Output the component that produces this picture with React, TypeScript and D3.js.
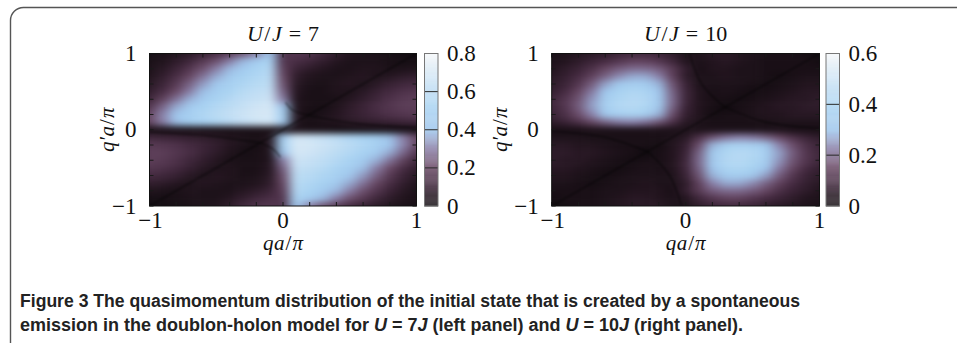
import React from "react";
import * as d3 from "d3";

// ---------- data ----------
const qGrid = [-1, -0.9, -0.8, -0.7, -0.6, -0.5, -0.4, -0.3, -0.2, -0.1, 0, 0.1, 0.2, 0.3, 0.4, 0.5, 0.6, 0.7, 0.8, 0.9, 1];
const qpGrid = [1, 0.9, 0.8, 0.7, 0.6, 0.5, 0.4, 0.3, 0.2, 0.1, 0, -0.1, -0.2, -0.3, -0.4, -0.5, -0.6, -0.7, -0.8, -0.9, -1];

// U/J = 7, rows from q'a/pi = 1 (top) to -1 (bottom), columns qa/pi = -1 .. 1
const u7Rows = [
  [0.02,0.03,0.05,0.07,0.10,0.13,0.17,0.22,0.30,0.40,0.15,0.16,0.15,0.12,0.08,0.05,0.04,0.03,0.02,0.01,0.00],
  [0.03,0.05,0.08,0.12,0.17,0.22,0.30,0.38,0.45,0.52,0.16,0.14,0.12,0.09,0.06,0.04,0.04,0.04,0.03,0.02,0.02],
  [0.04,0.07,0.11,0.16,0.22,0.30,0.38,0.45,0.52,0.56,0.18,0.11,0.08,0.06,0.04,0.04,0.05,0.05,0.03,0.04,0.05],
  [0.05,0.09,0.14,0.20,0.28,0.36,0.44,0.50,0.55,0.58,0.20,0.08,0.05,0.04,0.04,0.05,0.06,0.04,0.06,0.08,0.09],
  [0.07,0.11,0.17,0.25,0.34,0.42,0.49,0.54,0.58,0.60,0.22,0.07,0.04,0.03,0.05,0.06,0.04,0.07,0.10,0.12,0.13],
  [0.09,0.14,0.21,0.30,0.39,0.47,0.53,0.58,0.61,0.63,0.25,0.06,0.03,0.03,0.05,0.04,0.07,0.10,0.13,0.15,0.16],
  [0.12,0.19,0.28,0.37,0.45,0.52,0.57,0.61,0.64,0.66,0.30,0.05,0.03,0.03,0.03,0.06,0.09,0.12,0.15,0.17,0.18],
  [0.16,0.26,0.36,0.45,0.51,0.56,0.60,0.64,0.67,0.69,0.40,0.05,0.03,0.02,0.05,0.08,0.11,0.14,0.16,0.18,0.18],
  [0.20,0.31,0.41,0.49,0.55,0.59,0.63,0.66,0.69,0.70,0.50,0.06,0.01,0.04,0.06,0.09,0.11,0.13,0.15,0.16,0.17],
  [0.20,0.30,0.39,0.46,0.51,0.55,0.59,0.63,0.66,0.68,0.45,0.05,0.03,0.04,0.05,0.07,0.08,0.09,0.10,0.11,0.12],
  [0.03,0.03,0.03,0.03,0.03,0.03,0.03,0.03,0.03,0.03,0.03,0.04,0.03,0.03,0.02,0.02,0.02,0.02,0.02,0.02,0.02],
  [0.12,0.11,0.10,0.09,0.08,0.07,0.05,0.04,0.03,0.05,0.45,0.68,0.66,0.63,0.59,0.55,0.51,0.46,0.39,0.30,0.20],
  [0.17,0.16,0.15,0.13,0.11,0.09,0.06,0.04,0.01,0.06,0.50,0.70,0.69,0.66,0.63,0.59,0.55,0.49,0.41,0.31,0.20],
  [0.18,0.18,0.16,0.14,0.11,0.08,0.05,0.02,0.03,0.05,0.40,0.69,0.67,0.64,0.60,0.56,0.51,0.45,0.36,0.26,0.16],
  [0.18,0.17,0.15,0.12,0.09,0.06,0.03,0.03,0.03,0.05,0.30,0.66,0.64,0.61,0.57,0.52,0.45,0.37,0.28,0.19,0.12],
  [0.16,0.15,0.13,0.10,0.07,0.04,0.05,0.03,0.03,0.06,0.25,0.63,0.61,0.58,0.53,0.47,0.39,0.30,0.21,0.14,0.09],
  [0.13,0.12,0.10,0.07,0.04,0.06,0.05,0.03,0.04,0.07,0.22,0.60,0.58,0.54,0.49,0.42,0.34,0.25,0.17,0.11,0.07],
  [0.09,0.08,0.06,0.04,0.06,0.05,0.04,0.04,0.05,0.08,0.20,0.58,0.55,0.50,0.44,0.36,0.28,0.20,0.14,0.09,0.05],
  [0.05,0.04,0.03,0.05,0.04,0.04,0.04,0.06,0.08,0.11,0.18,0.56,0.52,0.45,0.38,0.30,0.22,0.16,0.11,0.07,0.04],
  [0.02,0.02,0.03,0.04,0.04,0.04,0.06,0.09,0.12,0.14,0.16,0.52,0.45,0.38,0.30,0.22,0.17,0.12,0.08,0.05,0.03],
  [0.00,0.01,0.02,0.03,0.04,0.05,0.08,0.12,0.15,0.16,0.15,0.40,0.30,0.22,0.17,0.13,0.10,0.07,0.05,0.03,0.02],
];

// U/J = 10
const u10Rows = [
  [0.02,0.03,0.04,0.05,0.06,0.08,0.09,0.09,0.08,0.06,0.03,0.03,0.05,0.05,0.04,0.03,0.02,0.02,0.02,0.01,0.00],
  [0.03,0.04,0.06,0.08,0.10,0.12,0.14,0.14,0.12,0.09,0.04,0.03,0.04,0.05,0.04,0.03,0.02,0.02,0.02,0.02,0.01],
  [0.04,0.06,0.08,0.11,0.15,0.18,0.20,0.20,0.18,0.13,0.07,0.02,0.04,0.04,0.03,0.03,0.02,0.02,0.02,0.02,0.02],
  [0.05,0.07,0.10,0.14,0.19,0.24,0.27,0.27,0.23,0.14,0.06,0.03,0.03,0.04,0.03,0.03,0.02,0.01,0.02,0.03,0.03],
  [0.06,0.08,0.12,0.18,0.26,0.32,0.35,0.34,0.28,0.17,0.08,0.03,0.03,0.03,0.03,0.02,0.01,0.02,0.03,0.04,0.04],
  [0.07,0.10,0.15,0.22,0.31,0.38,0.41,0.40,0.31,0.19,0.09,0.04,0.02,0.03,0.02,0.01,0.02,0.03,0.04,0.05,0.05],
  [0.09,0.12,0.17,0.25,0.35,0.41,0.43,0.42,0.33,0.20,0.09,0.04,0.02,0.02,0.01,0.02,0.03,0.04,0.05,0.05,0.06],
  [0.09,0.12,0.18,0.26,0.36,0.42,0.43,0.41,0.32,0.19,0.08,0.04,0.02,0.00,0.02,0.03,0.04,0.05,0.05,0.06,0.06],
  [0.08,0.11,0.16,0.23,0.32,0.37,0.39,0.36,0.28,0.16,0.07,0.04,0.01,0.02,0.02,0.03,0.04,0.04,0.05,0.05,0.05],
  [0.06,0.08,0.11,0.15,0.19,0.22,0.23,0.21,0.17,0.11,0.05,0.03,0.02,0.02,0.02,0.02,0.02,0.03,0.03,0.03,0.03],
  [0.02,0.02,0.02,0.03,0.03,0.03,0.03,0.03,0.03,0.03,0.03,0.03,0.03,0.03,0.03,0.03,0.03,0.03,0.02,0.02,0.02],
  [0.03,0.03,0.03,0.02,0.02,0.02,0.02,0.02,0.02,0.03,0.05,0.11,0.17,0.21,0.23,0.22,0.19,0.15,0.11,0.08,0.06],
  [0.05,0.05,0.04,0.04,0.03,0.02,0.02,0.02,0.01,0.04,0.07,0.16,0.28,0.36,0.39,0.37,0.32,0.23,0.16,0.11,0.08],
  [0.06,0.06,0.05,0.05,0.04,0.03,0.02,0.00,0.02,0.04,0.08,0.19,0.32,0.41,0.43,0.42,0.36,0.26,0.18,0.12,0.09],
  [0.06,0.05,0.05,0.04,0.03,0.02,0.01,0.02,0.02,0.04,0.09,0.20,0.33,0.42,0.43,0.41,0.35,0.25,0.17,0.12,0.09],
  [0.05,0.05,0.04,0.03,0.02,0.01,0.02,0.03,0.02,0.04,0.09,0.19,0.31,0.40,0.41,0.38,0.31,0.22,0.15,0.10,0.07],
  [0.04,0.04,0.03,0.02,0.01,0.02,0.03,0.03,0.03,0.03,0.08,0.17,0.28,0.34,0.35,0.32,0.26,0.18,0.12,0.08,0.06],
  [0.03,0.03,0.02,0.01,0.02,0.03,0.03,0.04,0.03,0.03,0.06,0.14,0.23,0.27,0.27,0.24,0.19,0.14,0.10,0.07,0.05],
  [0.02,0.02,0.02,0.02,0.03,0.03,0.04,0.04,0.04,0.02,0.07,0.13,0.18,0.20,0.20,0.18,0.15,0.11,0.08,0.06,0.04],
  [0.01,0.02,0.02,0.02,0.03,0.04,0.05,0.05,0.04,0.03,0.04,0.09,0.12,0.14,0.14,0.12,0.10,0.08,0.06,0.04,0.03],
  [0.00,0.01,0.02,0.02,0.03,0.04,0.05,0.05,0.05,0.03,0.03,0.06,0.08,0.09,0.09,0.08,0.06,0.05,0.04,0.03,0.02],
];

// nodal (zero) lines seen in the maps, as (qa/pi, q'a/pi) points
const u7Nodal = [
  [[-1, -1], [1, 1]],
  [[-1, -0.03], [-0.55, -0.08], [-0.17, -0.17]],
  [[-0.17, -0.17], [-0.07, -0.26], [-0.02, -0.36]],
  [[1, 0.03], [0.55, 0.08], [0.19, 0.19]],
  [[0.19, 0.19], [0.07, 0.26], [0.02, 0.36]],
];
const u10Nodal = [
  [[-1, -1], [1, 1]],
  [[0.29, 0.3], [0.12, 0.6], [0.03, 1]],
  [[0.29, 0.3], [0.6, 0.1], [1, 0.02]],
  [[-0.28, -0.29], [-0.12, -0.6], [-0.03, -1]],
  [[-0.28, -0.29], [-0.6, -0.1], [-1, -0.02]],
];

const axisTicks = [-1, 0, 1];
const axisTickLabels = ["\u22121", "0", "1"];
const minorTicks = [-1, -0.8, -0.6, -0.4, -0.2, 0, 0.2, 0.4, 0.6, 0.8, 1];
const cbTicksU7 = [0, 0.2, 0.4, 0.6, 0.8];
const cbLabelsU7 = ["0", "0.2", "0.4", "0.6", "0.8"];
const cbTicksU10 = [0, 0.2, 0.4, 0.6];
const cbLabelsU10 = ["0", "0.2", "0.4", "0.6"];

const cmapStops = [0, 0.07, 0.16, 0.26, 0.38, 0.5, 0.65, 0.8, 1];
const cmapColors = ["#0f0a0e", "#23151f", "#43293f", "#6a4a66", "#8a80a8", "#9fc6ec", "#a9d3f2", "#c6e0f4", "#f4f6f8"];

const cmap = d3.scaleLinear<string>().domain(cmapStops).range(cmapColors).interpolate(d3.interpolateRgb).clamp(true);

const MATH = "'Liberation Serif', 'DejaVu Serif', serif";

type PanelProps = {
  id: string;
  rows: number[][];
  nodal: number[][][];
  vmax: number;
  x0: number; x1: number; y0: number; y1: number;
  cbx0: number; cbx1: number;
  cbTicks: number[]; cbLabels: string[];
  title: string;
  ylabelX: number;
};

function Panel(p: PanelProps) {
  const xs = d3.scaleLinear().domain([-1, 1]).range([p.x0, p.x1]);
  const ys = d3.scaleLinear().domain([-1, 1]).range([p.y1, p.y0]);
  const cb = d3.scaleLinear().domain([0, p.vmax]).range([p.y1, p.y0]);
  const pad = 24;
  const h = 0.05;
  const nx = qGrid.length, ny = qpGrid.length;
  const cells: React.ReactElement[] = [];
  p.rows.forEach((row, j) => {
    const qp = qpGrid[j];
    const top = j === 0 ? ys(1) - pad : ys(qp + h);
    const bot = j === ny - 1 ? ys(-1) + pad : ys(qp - h);
    row.forEach((v, i) => {
      const q = qGrid[i];
      const left = i === 0 ? xs(-1) - pad : xs(q - h);
      const right = i === nx - 1 ? xs(1) + pad : xs(q + h);
      cells.push(
        <rect key={`${i}-${j}`} x={left} y={top} width={right - left + 0.6} height={bot - top + 0.6}
          fill={cmap(v / p.vmax)} />
      );
    });
  });
  const line = d3.line<number[]>().x((d) => xs(d[0])).y((d) => ys(d[1])).curve(d3.curveCatmullRom.alpha(0.5));
  const nCb = 160;
  const cbRects = d3.range(nCb).map((k) => {
    const v0 = (p.vmax * k) / nCb;
    const v1 = (p.vmax * (k + 1)) / nCb;
    return (
      <rect key={k} x={p.cbx0} y={cb(v1)} width={p.cbx1 - p.cbx0} height={cb(v0) - cb(v1) + 0.5}
        fill={cmap((v0 + v1) / 2 / p.vmax)} fillOpacity={0.75} />
    );
  });
  const tl = 4;
  const tickColor = "#1a1a1a";
  const cx = (p.x0 + p.x1) / 2;
  return (
    <g>
      <defs>
        <clipPath id={`clip-${p.id}`}>
          <rect x={p.x0} y={p.y0} width={p.x1 - p.x0} height={p.y1 - p.y0} />
        </clipPath>
        <filter id={`blur-${p.id}`} filterUnits="userSpaceOnUse" x={p.x0 - 40} y={p.y0 - 40}
          width={p.x1 - p.x0 + 80} height={p.y1 - p.y0 + 80} colorInterpolationFilters="sRGB">
          <feGaussianBlur stdDeviation="5.5 3.2" />
        </filter>
        <filter id={`soft-${p.id}`} filterUnits="userSpaceOnUse" x={p.x0 - 10} y={p.y0 - 10}
          width={p.x1 - p.x0 + 20} height={p.y1 - p.y0 + 20}>
          <feGaussianBlur stdDeviation="0.9" />
        </filter>
      </defs>
      <g clipPath={`url(#clip-${p.id})`}>
        <g filter={`url(#blur-${p.id})`}>{cells}</g>
        <g filter={`url(#soft-${p.id})`} fill="none" stroke="#050305" strokeOpacity={0.4} strokeWidth={1.6}>
          {p.nodal.map((pts, k) => <path key={k} d={line(pts) || ""} />)}
        </g>
      </g>
      {minorTicks.map((t) => (
        <g key={`t${t}`} stroke={tickColor} strokeWidth={1}>
          <line x1={xs(t)} x2={xs(t)} y1={p.y1} y2={p.y1 - tl} />
          <line x1={xs(t)} x2={xs(t)} y1={p.y0} y2={p.y0 + tl} />
          <line y1={ys(t)} y2={ys(t)} x1={p.x0} x2={p.x0 + tl} />
          <line y1={ys(t)} y2={ys(t)} x1={p.x1} x2={p.x1 - tl} />
        </g>
      ))}
      <rect x={p.x0} y={p.y0} width={p.x1 - p.x0} height={p.y1 - p.y0} fill="none" stroke="#111" strokeWidth={1} />
      {axisTicks.map((t, i) => (
        <text key={`xl${t}`} x={xs(t) + (t === -1 ? 1 : 0)} y={p.y1 + 21.5} textAnchor="middle" fontFamily={MATH} fontSize={23} fill="#111">
          {axisTickLabels[i]}
        </text>
      ))}
      {axisTicks.map((t, i) => (
        <text key={`yl${t}`} x={p.x0 - 13} y={ys(t) + 7.5} textAnchor="end" fontFamily={MATH} fontSize={23} fill="#111">
          {axisTickLabels[i]}
        </text>
      ))}
      <text x={cx} y={250} textAnchor="middle" fontFamily={MATH} fontSize={21} fill="#111">
        <tspan fontStyle="italic">q</tspan><tspan dx={0.5} fontStyle="italic">a</tspan><tspan dx={1}>/</tspan><tspan dx={1} fontStyle="italic">{"\u03c0"}</tspan>
      </text>
      <text transform={`translate(${p.ylabelX},${(p.y0 + p.y1) / 2}) rotate(-90)`} textAnchor="middle"
        fontFamily={MATH} fontSize={21} fill="#111">
        <tspan fontStyle="italic">{"q\u2032"}</tspan><tspan dx={0.5} fontStyle="italic">a</tspan><tspan dx={1}>/</tspan><tspan dx={1} fontStyle="italic">{"\u03c0"}</tspan>
      </text>
      <text x={cx} y={41} textAnchor="middle" fontFamily={MATH} fontSize={22} fill="#111">
        <tspan fontStyle="italic">U</tspan><tspan dx={1.5}>/</tspan><tspan dx={1.5} fontStyle="italic">J</tspan>
        <tspan dx={7}>=</tspan><tspan dx={7}>{p.title}</tspan>
      </text>
      <rect x={p.cbx0} y={p.y0} width={p.cbx1 - p.cbx0} height={p.y1 - p.y0} fill="#fff" />
      {cbRects}
      {p.cbTicks.filter((t) => t > 0 && t < p.vmax).map((t) => (
        <line key={`cbl${t}`} x1={p.cbx0} x2={p.cbx1} y1={cb(t)} y2={cb(t)} stroke="#2a2a2a" strokeWidth={1} />
      ))}
      <rect x={p.cbx0} y={p.y0} width={p.cbx1 - p.cbx0} height={p.y1 - p.y0} fill="none" stroke="#777" strokeWidth={1} />
      {p.cbTicks.map((t, i) => (
        <text key={`cbt${t}`} x={p.cbx1 + 9} y={cb(t) + 7.5} fontFamily={MATH} fontSize={23} fill="#111">
          {p.cbLabels[i]}
        </text>
      ))}
    </g>
  );
}

const CAPTION = "'Liberation Sans Narrow', 'Liberation Sans', Arial, sans-serif";

export default function App() {
  return (
    <svg width={957} height={343} viewBox="0 0 957 343"
      style={{ position: "absolute", left: 0, top: 0, display: "block", background: "#fff" }}>
      <rect x={0} y={0} width={957} height={343} fill="#fff" />
      <rect x={10.5} y={7.5} width={1000} height={420} rx={13} ry={13} fill="none" stroke="#555" strokeWidth={1.4} />
      <Panel id="u7" rows={u7Rows} nodal={u7Nodal} vmax={0.8} x0={149.5} x1={416.5} y0={53.5} y1={206}
        cbx0={424.5} cbx1={438} cbTicks={cbTicksU7} cbLabels={cbLabelsU7} title="7" ylabelX={114} />
      <Panel id="u10" rows={u10Rows} nodal={u10Nodal} vmax={0.6} x0={551.7} x1={819.5} y0={53.5} y1={206}
        cbx0={826} cbx1={839.5} cbTicks={cbTicksU10} cbLabels={cbLabelsU10} title="10" ylabelX={507} />
      <text x={20} y={307} fontFamily={CAPTION} fontWeight="bold" fontSize={17.5} fill="#222"
        textLength={780} lengthAdjust="spacingAndGlyphs">
        Figure 3  The quasimomentum distribution of the initial state that is created by a spontaneous
      </text>
      <text x={20} y={331} fontFamily={CAPTION} fontWeight="bold" fontSize={17.5} fill="#222"
        textLength={723} lengthAdjust="spacingAndGlyphs">
        emission in the doublon-holon model for <tspan fontStyle="italic">U</tspan> = 7<tspan fontStyle="italic">J</tspan> (left panel) and <tspan fontStyle="italic">U</tspan> = 10<tspan fontStyle="italic">J</tspan> (right panel).
      </text>
    </svg>
  );
}
